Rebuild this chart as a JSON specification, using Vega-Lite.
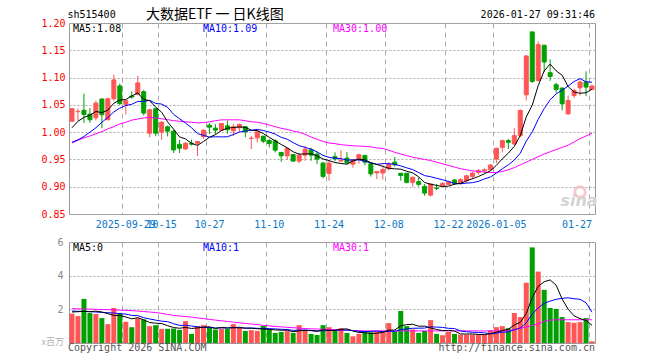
{
"$schema": "https://vega.github.io/schema/vega-lite/v6.json",
"background": "white",
"padding": {"left": 40, "top": 7, "right": 5, "bottom": 5},
"bounds": "flush",
"spacing": 28,
"config": {"view": {"stroke": "#999999", "strokeWidth": 1}, "font": "DejaVu Sans Mono",
  "axis": {"labelOverlap": false, "labelBound": false}, "axisY": {"labelOverlap": false, "labelBound": false}, "axisQuantitative": {"labelOverlap": false}},
"datasets": {"k": [
{"d":"2025-09-16","o":1.020,"h":1.044,"l":1.019,"c":1.043,"v":1.74,"m5":1.008,"m10":0.9815,"m30":0.980,"vm5":1.84,"vm10":1.90,"vm30":2.04},
{"d":"2025-09-17","o":1.0375,"h":1.043,"l":1.0214,"c":1.038,"v":1.60,"m5":1.020,"m10":0.986,"m30":0.985,"vm5":1.86,"vm10":1.88,"vm30":2.03},
{"d":"2025-09-18","o":1.040,"h":1.0705,"l":1.017,"c":1.0325,"v":2.62,"m5":1.027,"m10":0.992,"m30":0.9895,"vm5":1.88,"vm10":1.88,"vm30":2.02},
{"d":"2025-09-19","o":1.033,"h":1.044,"l":1.017,"c":1.0227,"v":1.78,"m5":1.031,"m10":1.000,"m30":0.993,"vm5":1.86,"vm10":1.86,"vm30":2.01},
{"d":"2025-09-22","o":1.0263,"h":1.0576,"l":1.0214,"c":1.0533,"v":1.72,"m5":1.0379,"m10":1.008,"m30":0.997,"vm5":1.892,"vm10":1.84,"vm30":2.00},
{"d":"2025-09-23","o":1.0607,"h":1.062,"l":1.0073,"c":1.0319,"v":1.48,"m5":1.0357,"m10":1.018,"m30":1.001,"vm5":1.84,"vm10":1.82,"vm30":1.99},
{"d":"2025-09-24","o":1.0227,"h":1.063,"l":1.022,"c":1.0613,"v":1.12,"m5":1.0403,"m10":1.027,"m30":1.006,"vm5":1.744,"vm10":1.80,"vm30":1.98},
{"d":"2025-09-25","o":1.0613,"h":1.1055,"l":1.058,"c":1.0957,"v":2.08,"m5":1.053,"m10":1.037,"m30":1.010,"vm5":1.636,"vm10":1.78,"vm30":1.97},
{"d":"2025-09-26","o":1.0847,"h":1.089,"l":1.050,"c":1.0521,"v":1.78,"m5":1.0589,"m10":1.044,"m30":1.015,"vm5":1.636,"vm10":1.74,"vm30":1.95},
{"d":"2025-09-29","o":1.0509,"h":1.058,"l":1.0325,"c":1.0576,"v":1.26,"m5":1.0597,"m10":1.0488,"m30":1.018,"vm5":1.544,"vm10":1.718,"vm30":1.94},
{"d":"2025-09-30","o":1.0662,"h":1.0748,"l":1.0613,"c":1.0644,"v":0.94,"m5":1.0662,"m10":1.051,"m30":1.022,"vm5":1.436,"vm10":1.638,"vm30":1.92},
{"d":"2025-10-09","o":1.0693,"h":1.1031,"l":1.0675,"c":1.0902,"v":1.48,"m5":1.072,"m10":1.0562,"m30":1.024,"vm5":1.508,"vm10":1.626,"vm30":1.90},
{"d":"2025-10-10","o":1.0742,"h":1.0767,"l":1.0306,"c":1.0349,"v":1.40,"m5":1.0598,"m10":1.0564,"m30":1.026,"vm5":1.372,"vm10":1.504,"vm30":1.87},
{"d":"2025-10-13","o":0.998,"h":1.0429,"l":0.9907,"c":1.041,"v":1.00,"m5":1.0576,"m10":1.0583,"m30":1.027,"vm5":1.216,"vm10":1.426,"vm30":1.84},
{"d":"2025-10-14","o":1.0429,"h":1.0447,"l":0.9926,"c":0.998,"v":1.06,"m5":1.0457,"m10":1.0527,"m30":1.026,"vm5":1.176,"vm10":1.36,"vm30":1.81},
{"d":"2025-10-15","o":0.9999,"h":1.0196,"l":0.9858,"c":1.0184,"v":0.84,"m5":1.0365,"m10":1.0514,"m30":1.0245,"vm5":1.156,"vm10":1.296,"vm30":1.76},
{"d":"2025-10-16","o":1.0098,"h":1.0122,"l":0.992,"c":1.0018,"v":0.84,"m5":1.0188,"m10":1.0454,"m30":1.023,"vm5":1.028,"vm10":1.268,"vm30":1.70},
{"d":"2025-10-17","o":1.0018,"h":1.0042,"l":0.9619,"c":0.9674,"v":0.86,"m5":1.0053,"m10":1.0326,"m30":1.021,"vm5":0.92,"vm10":1.146,"vm30":1.64},
{"d":"2025-10-20","o":0.9778,"h":0.9858,"l":0.9619,"c":0.9705,"v":0.78,"m5":0.9912,"m10":1.0244,"m30":1.020,"vm5":0.876,"vm10":1.046,"vm30":1.60},
{"d":"2025-10-21","o":0.9692,"h":0.9815,"l":0.9674,"c":0.9797,"v":1.30,"m5":0.9876,"m10":1.0167,"m30":1.019,"vm5":0.924,"vm10":1.05,"vm30":1.57},
{"d":"2025-10-22","o":0.9797,"h":0.9864,"l":0.9754,"c":0.9779,"v":0.54,"m5":0.9795,"m10":1.008,"m30":1.018,"vm5":0.864,"vm10":1.01,"vm30":1.54},
{"d":"2025-10-23","o":0.9797,"h":0.9834,"l":0.9563,"c":0.9828,"v":1.00,"m5":0.9757,"m10":0.9973,"m30":1.017,"vm5":0.896,"vm10":0.962,"vm30":1.49},
{"d":"2025-10-24","o":0.992,"h":1.0048,"l":0.988,"c":1.0036,"v":1.06,"m5":0.9829,"m10":0.9941,"m30":1.0175,"vm5":0.936,"vm10":0.928,"vm30":1.45},
{"d":"2025-10-27","o":1.0128,"h":1.0165,"l":0.9963,"c":1.0091,"v":0.92,"m5":0.9906,"m10":0.9909,"m30":1.019,"vm5":0.964,"vm10":0.92,"vm30":1.40},
{"d":"2025-10-28","o":1.0073,"h":1.0146,"l":0.9963,"c":1.0037,"v":0.80,"m5":0.9954,"m10":0.9915,"m30":1.021,"vm5":0.864,"vm10":0.894,"vm30":1.36},
{"d":"2025-10-29","o":1.0037,"h":1.016,"l":1.003,"c":1.0158,"v":0.84,"m5":1.003,"m10":0.9913,"m30":1.0225,"vm5":0.924,"vm10":0.894,"vm30":1.32},
{"d":"2025-10-30","o":1.0116,"h":1.0213,"l":0.9975,"c":1.0043,"v":0.84,"m5":1.0073,"m10":0.9915,"m30":1.0226,"vm5":0.892,"vm10":0.894,"vm30":1.28},
{"d":"2025-10-31","o":1.0024,"h":1.0152,"l":0.9927,"c":1.0098,"v":1.12,"m5":1.0085,"m10":0.9957,"m30":1.0226,"vm5":0.904,"vm10":0.92,"vm30":1.24},
{"d":"2025-11-03","o":1.0079,"h":1.016,"l":1.000,"c":1.014,"v":0.92,"m5":1.0095,"m10":1.0001,"m30":1.0225,"vm5":0.904,"vm10":0.934,"vm30":1.20},
{"d":"2025-11-04","o":1.0098,"h":1.011,"l":0.9908,"c":1.0006,"v":0.72,"m5":1.0089,"m10":1.0022,"m30":1.021,"vm5":0.888,"vm10":0.876,"vm30":1.16},
{"d":"2025-11-05","o":0.9885,"h":0.9927,"l":0.969,"c":0.989,"v":0.76,"m5":1.0035,"m10":1.0033,"m30":1.019,"vm5":0.872,"vm10":0.898,"vm30":1.13},
{"d":"2025-11-06","o":0.9896,"h":1.0037,"l":0.981,"c":1.0006,"v":0.72,"m5":1.0028,"m10":1.0051,"m30":1.018,"vm5":0.848,"vm10":0.87,"vm30":1.09},
{"d":"2025-11-07","o":0.9927,"h":0.9927,"l":0.98,"c":0.9835,"v":1.02,"m5":0.9975,"m10":1.003,"m30":1.016,"vm5":0.828,"vm10":0.866,"vm30":1.05},
{"d":"2025-11-10","o":0.9847,"h":0.988,"l":0.972,"c":0.9792,"v":0.80,"m5":0.9906,"m10":1.0001,"m30":1.013,"vm5":0.804,"vm10":0.854,"vm30":1.02},
{"d":"2025-11-11","o":0.984,"h":0.987,"l":0.963,"c":0.967,"v":0.60,"m5":0.9839,"m10":0.9964,"m30":1.010,"vm5":0.78,"vm10":0.834,"vm30":0.98},
{"d":"2025-11-12","o":0.9628,"h":0.963,"l":0.9457,"c":0.9567,"v":0.66,"m5":0.9774,"m10":0.9905,"m30":1.007,"vm5":0.76,"vm10":0.816,"vm30":0.96},
{"d":"2025-11-13","o":0.9567,"h":0.972,"l":0.949,"c":0.970,"v":0.70,"m5":0.9713,"m10":0.9871,"m30":1.005,"vm5":0.756,"vm10":0.802,"vm30":0.93},
{"d":"2025-11-14","o":0.959,"h":0.96,"l":0.9457,"c":0.9469,"v":0.60,"m5":0.964,"m10":0.9808,"m30":1.002,"vm5":0.672,"vm10":0.75,"vm30":0.91},
{"d":"2025-11-17","o":0.9469,"h":0.9616,"l":0.9433,"c":0.9579,"v":1.06,"m5":0.9597,"m10":0.9752,"m30":1.000,"vm5":0.724,"vm10":0.764,"vm30":0.88},
{"d":"2025-11-18","o":0.9579,"h":0.975,"l":0.9475,"c":0.9689,"v":0.76,"m5":0.9601,"m10":0.972,"m30":0.996,"vm5":0.756,"vm10":0.768,"vm30":0.86},
{"d":"2025-11-19","o":0.9677,"h":0.9713,"l":0.9475,"c":0.9579,"v":0.54,"m5":0.9603,"m10":0.9689,"m30":0.991,"vm5":0.732,"vm10":0.746,"vm30":0.84},
{"d":"2025-11-20","o":0.9597,"h":0.964,"l":0.9415,"c":0.9506,"v":0.48,"m5":0.9564,"m10":0.9639,"m30":0.987,"vm5":0.688,"vm10":0.722,"vm30":0.83},
{"d":"2025-11-21","o":0.9433,"h":0.9457,"l":0.9152,"c":0.9189,"v":1.06,"m5":0.9508,"m10":0.9574,"m30":0.983,"vm5":0.78,"vm10":0.726,"vm30":0.82},
{"d":"2025-11-24","o":0.9243,"h":0.9475,"l":0.911,"c":0.9433,"v":0.94,"m5":0.9479,"m10":0.9538,"m30":0.980,"vm5":0.756,"vm10":0.74,"vm30":0.80},
{"d":"2025-11-25","o":0.955,"h":0.963,"l":0.947,"c":0.951,"v":0.72,"m5":0.9443,"m10":0.9522,"m30":0.979,"vm5":0.748,"vm10":0.752,"vm30":0.79},
{"d":"2025-11-26","o":0.947,"h":0.9667,"l":0.9463,"c":0.9485,"v":0.88,"m5":0.9426,"m10":0.9515,"m30":0.977,"vm5":0.816,"vm10":0.774,"vm30":0.78},
{"d":"2025-11-27","o":0.9525,"h":0.9636,"l":0.942,"c":0.9438,"v":0.60,"m5":0.9412,"m10":0.9488,"m30":0.976,"vm5":0.84,"vm10":0.764,"vm30":0.76},
{"d":"2025-11-28","o":0.9414,"h":0.95,"l":0.935,"c":0.9494,"v":0.40,"m5":0.9473,"m10":0.9491,"m30":0.975,"vm5":0.708,"vm10":0.744,"vm30":0.74},
{"d":"2025-12-01","o":0.95,"h":0.9605,"l":0.942,"c":0.9586,"v":0.54,"m5":0.9504,"m10":0.9492,"m30":0.9745,"vm5":0.628,"vm10":0.692,"vm30":0.73},
{"d":"2025-12-02","o":0.9574,"h":0.958,"l":0.939,"c":0.945,"v":0.64,"m5":0.9492,"m10":0.9468,"m30":0.974,"vm5":0.612,"vm10":0.68,"vm30":0.72},
{"d":"2025-12-03","o":0.942,"h":0.9426,"l":0.9185,"c":0.9235,"v":0.64,"m5":0.9441,"m10":0.9434,"m30":0.973,"vm5":0.564,"vm10":0.69,"vm30":0.72},
{"d":"2025-12-04","o":0.9253,"h":0.928,"l":0.914,"c":0.9278,"v":0.68,"m5":0.9409,"m10":0.9411,"m30":0.971,"vm5":0.58,"vm10":0.71,"vm30":0.72},
{"d":"2025-12-05","o":0.9253,"h":0.9389,"l":0.913,"c":0.9315,"v":0.68,"m5":0.9373,"m10":0.9423,"m30":0.970,"vm5":0.636,"vm10":0.672,"vm30":0.72},
{"d":"2025-12-08","o":0.9327,"h":0.945,"l":0.930,"c":0.9414,"v":1.18,"m5":0.9338,"m10":0.9421,"m30":0.967,"vm5":0.764,"vm10":0.696,"vm30":0.72},
{"d":"2025-12-09","o":0.945,"h":0.9543,"l":0.937,"c":0.940,"v":0.68,"m5":0.9328,"m10":0.941,"m30":0.963,"vm5":0.772,"vm10":0.692,"vm30":0.72},
{"d":"2025-12-10","o":0.9247,"h":0.925,"l":0.911,"c":0.9204,"v":1.90,"m5":0.9322,"m10":0.9382,"m30":0.960,"vm5":1.024,"vm10":0.794,"vm30":0.72},
{"d":"2025-12-11","o":0.9247,"h":0.925,"l":0.906,"c":0.908,"v":1.00,"m5":0.9283,"m10":0.9346,"m30":0.957,"vm5":1.088,"vm10":0.834,"vm30":0.72},
{"d":"2025-12-12","o":0.908,"h":0.918,"l":0.900,"c":0.9173,"v":0.80,"m5":0.9254,"m10":0.9314,"m30":0.954,"vm5":1.112,"vm10":0.874,"vm30":0.72},
{"d":"2025-12-15","o":0.9093,"h":0.917,"l":0.9006,"c":0.9043,"v":0.60,"m5":0.918,"m10":0.9259,"m30":0.952,"vm5":0.996,"vm10":0.88,"vm30":0.72},
{"d":"2025-12-16","o":0.9006,"h":0.905,"l":0.8833,"c":0.8883,"v":0.72,"m5":0.9077,"m10":0.9203,"m30":0.950,"vm5":1.004,"vm10":0.888,"vm30":0.72},
{"d":"2025-12-17","o":0.8846,"h":0.905,"l":0.882,"c":0.905,"v":1.36,"m5":0.9046,"m10":0.9184,"m30":0.948,"vm5":0.896,"vm10":0.96,"vm30":0.72},
{"d":"2025-12-18","o":0.8975,"h":0.905,"l":0.8938,"c":0.8969,"v":0.54,"m5":0.9024,"m10":0.9154,"m30":0.945,"vm5":0.804,"vm10":0.946,"vm30":0.72},
{"d":"2025-12-19","o":0.9019,"h":0.908,"l":0.9019,"c":0.9062,"v":0.46,"m5":0.9001,"m10":0.9128,"m30":0.942,"vm5":0.736,"vm10":0.924,"vm30":0.72},
{"d":"2025-12-22","o":0.9043,"h":0.911,"l":0.903,"c":0.909,"v":0.66,"m5":0.9011,"m10":0.9096,"m30":0.939,"vm5":0.748,"vm10":0.872,"vm30":0.72},
{"d":"2025-12-23","o":0.9123,"h":0.914,"l":0.903,"c":0.906,"v":0.54,"m5":0.9046,"m10":0.9062,"m30":0.936,"vm5":0.712,"vm10":0.858,"vm30":0.72},
{"d":"2025-12-24","o":0.906,"h":0.915,"l":0.904,"c":0.913,"v":0.50,"m5":0.9062,"m10":0.9054,"m30":0.933,"vm5":0.54,"vm10":0.718,"vm30":0.72},
{"d":"2025-12-25","o":0.911,"h":0.922,"l":0.907,"c":0.920,"v":0.50,"m5":0.9108,"m10":0.9066,"m30":0.931,"vm5":0.532,"vm10":0.668,"vm30":0.72},
{"d":"2025-12-26","o":0.9189,"h":0.9275,"l":0.914,"c":0.925,"v":0.50,"m5":0.9146,"m10":0.9074,"m30":0.929,"vm5":0.54,"vm10":0.638,"vm30":0.72},
{"d":"2025-12-29","o":0.9263,"h":0.9324,"l":0.922,"c":0.9294,"v":0.50,"m5":0.9187,"m10":0.9099,"m30":0.928,"vm5":0.508,"vm10":0.628,"vm30":0.72},
{"d":"2025-12-30","o":0.9294,"h":0.9336,"l":0.925,"c":0.9312,"v":0.50,"m5":0.9237,"m10":0.9142,"m30":0.927,"vm5":0.50,"vm10":0.606,"vm30":0.72},
{"d":"2025-12-31","o":0.9312,"h":0.941,"l":0.929,"c":0.9398,"v":0.76,"m5":0.9291,"m10":0.9177,"m30":0.926,"vm5":0.552,"vm10":0.546,"vm30":0.72},
{"d":"2026-01-05","o":0.9508,"h":0.9716,"l":0.9434,"c":0.9704,"v":0.94,"m5":0.9392,"m10":0.925,"m30":0.926,"vm5":0.64,"vm10":0.586,"vm30":0.72},
{"d":"2026-01-06","o":0.9722,"h":0.9863,"l":0.963,"c":0.9845,"v":1.00,"m5":0.9511,"m10":0.9329,"m30":0.928,"vm5":0.74,"vm10":0.64,"vm30":0.72},
{"d":"2026-01-07","o":0.9845,"h":0.9876,"l":0.9692,"c":0.9814,"v":0.88,"m5":0.9615,"m10":0.9401,"m30":0.931,"vm5":0.816,"vm10":0.662,"vm30":0.74},
{"d":"2026-01-08","o":0.9784,"h":1.0072,"l":0.9765,"c":0.9937,"v":1.78,"m5":0.974,"m10":0.9489,"m30":0.935,"vm5":1.072,"vm10":0.786,"vm30":0.80},
{"d":"2026-01-09","o":0.9937,"h":1.0415,"l":0.9906,"c":1.0397,"v":1.54,"m5":0.9939,"m10":0.9615,"m30":0.940,"vm5":1.228,"vm10":0.89,"vm30":0.88},
{"d":"2026-01-12","o":1.0685,"h":1.1408,"l":1.058,"c":1.1396,"v":3.58,"m5":1.0278,"m10":0.9835,"m30":0.945,"vm5":1.756,"vm10":1.198,"vm30":0.94},
{"d":"2026-01-13","o":1.1837,"h":1.1837,"l":1.09,"c":1.093,"v":5.68,"m5":1.0495,"m10":1.0003,"m30":0.950,"vm5":2.692,"vm10":1.716,"vm30":1.04},
{"d":"2026-01-14","o":1.0948,"h":1.1665,"l":1.093,"c":1.1604,"v":4.24,"m5":1.0853,"m10":1.0234,"m30":0.955,"vm5":3.364,"vm10":2.09,"vm30":1.14},
{"d":"2026-01-15","o":1.1592,"h":1.16,"l":1.11,"c":1.1285,"v":3.16,"m5":1.1122,"m10":1.0431,"m30":0.960,"vm5":3.64,"vm10":2.356,"vm30":1.28},
{"d":"2026-01-16","o":1.109,"h":1.1334,"l":1.094,"c":1.102,"v":2.08,"m5":1.1247,"m10":1.0593,"m30":0.964,"vm5":3.748,"vm10":2.488,"vm30":1.36},
{"d":"2026-01-19","o":1.0869,"h":1.0906,"l":1.0722,"c":1.0783,"v":2.02,"m5":1.1124,"m10":1.0701,"m30":0.968,"vm5":3.436,"vm10":2.596,"vm30":1.38},
{"d":"2026-01-20","o":1.0807,"h":1.082,"l":1.0397,"c":1.0519,"v":1.54,"m5":1.1042,"m10":1.0769,"m30":0.972,"vm5":2.608,"vm10":2.65,"vm30":1.38},
{"d":"2026-01-21","o":1.0335,"h":1.067,"l":1.0317,"c":1.058,"v":1.24,"m5":1.0837,"m10":1.0845,"m30":0.976,"vm5":2.008,"vm10":2.686,"vm30":1.38},
{"d":"2026-01-22","o":1.0672,"h":1.0795,"l":1.0624,"c":1.0765,"v":1.20,"m5":1.0733,"m10":1.0928,"m30":0.982,"vm5":1.616,"vm10":2.628,"vm30":1.38},
{"d":"2026-01-23","o":1.0813,"h":1.0948,"l":1.0672,"c":1.0918,"v":1.24,"m5":1.0713,"m10":1.098,"m30":0.988,"vm5":1.448,"vm10":2.598,"vm30":1.38},
{"d":"2026-01-26","o":1.0918,"h":1.1114,"l":1.066,"c":1.0826,"v":1.48,"m5":1.0722,"m10":1.0923,"m30":0.993,"vm5":1.34,"vm10":2.388,"vm30":1.38},
{"d":"2026-01-27","o":1.0783,"h":1.0869,"l":1.077,"c":1.0844,"v":0.10,"m5":1.0787,"m10":1.0915,"m30":0.998,"vm5":1.052,"vm10":1.83,"vm30":1.38}
]},
"data": {"name": "k"},
"vconcat": [
{
"width": 526, "height": 191,
"encoding": {"x": {"field": "d", "type": "ordinal", "sort": null,
  "scale": {"type": "band", "paddingInner": 0, "paddingOuter": 0},
  "axis": {"values": ["2025-09-29","2025-10-15","2025-10-27","2025-11-10","2025-11-24","2025-12-08","2025-12-22","2026-01-05","2026-01-27"],
    "title": null, "domain": false, "ticks": false, "tickSize": 0, "labelPadding": 5,
    "labelFont": "DejaVu Sans Mono", "labelFontSize": 10, "labelColor": "#0a78c8", "labelAngle": 0, "labelOverlap": false,
    "labelAlign": {"condition": {"test": "datum.value == '2026-01-27'", "value": "right"}, "value": "center"},
    "labelExpr": "(datum.value == '2025-09-29' || datum.value == '2026-01-05') ? datum.value : slice(datum.value, 5)",
    "grid": true, "gridColor": "#aaaaaa", "gridDash": [5, 4], "bandPosition": 0}},
  "y": {"type": "quantitative", "scale": {"domain": [0.85, 1.2], "nice": false, "zero": false},
     "axis": {"values": [0.85, 0.9, 0.95, 1.0, 1.05, 1.1, 1.15, 1.2], "format": ".2f", "title": null, "domain": false, "ticks": false, "tickSize": 0,
       "labelPadding": 4, "labelFont": "DejaVu Sans Mono", "labelFontSize": 10, "labelColor": "#ff0000", "labelOverlap": false, "labelBound": false, "labelSeparation": 0,
       "grid": true, "gridColor": "#aaaaaa", "gridDash": [2, 2]}}},
"layer": [
 {"mark": {"type": "rule", "strokeWidth": 1},
  "encoding": {
   "y": {"field": "l", "type": "quantitative", "scale": {"domain": [0.85, 1.2], "nice": false, "zero": false},
     "axis": {"values": [0.85, 0.9, 0.95, 1.0, 1.05, 1.1, 1.15, 1.2], "format": ".2f", "title": null, "domain": false, "ticks": false, "tickSize": 0,
       "labelPadding": 4, "labelFont": "DejaVu Sans Mono", "labelFontSize": 10, "labelColor": "#ff0000", "labelOverlap": false, "labelBound": false, "labelSeparation": 0,
       "grid": true, "gridColor": "#aaaaaa", "gridDash": [2, 2]}},
   "y2": {"field": "h"},
   "color": {"condition": {"test": "datum.c >= datum.o", "value": "#ff5555"}, "value": "#00a000"}}},
 {"mark": {"type": "bar", "size": 4, "strokeWidth": 1},
  "encoding": {
   "y": {"field": "o", "type": "quantitative", "scale": {"domain": [0.85, 1.2], "nice": false, "zero": false},
     "axis": {"values": [0.85, 0.9, 0.95, 1.0, 1.05, 1.1, 1.15, 1.2], "format": ".2f", "title": null, "domain": false, "ticks": false, "tickSize": 0,
       "labelPadding": 4, "labelFont": "DejaVu Sans Mono", "labelFontSize": 10, "labelColor": "#ff0000", "labelOverlap": false, "labelBound": false, "labelSeparation": 0,
       "grid": true, "gridColor": "#aaaaaa", "gridDash": [2, 2]}},
   "y2": {"field": "c"},
   "fill": {"condition": {"test": "datum.c >= datum.o", "value": "#ff5555"}, "value": "#00a000"},
   "stroke": {"condition": {"test": "datum.c >= datum.o", "value": "#ff5555"}, "value": "#00a000"}}},
 {"mark": {"type": "line", "strokeWidth": 1, "color": "#ff00ff"},
  "encoding": {"y": {"field": "m30", "type": "quantitative", "scale": {"domain": [0.85, 1.2], "nice": false, "zero": false}}}},
 {"mark": {"type": "line", "strokeWidth": 1, "color": "#0000ff"},
  "encoding": {"y": {"field": "m10", "type": "quantitative", "scale": {"domain": [0.85, 1.2], "nice": false, "zero": false}}}},
 {"mark": {"type": "line", "strokeWidth": 1, "color": "#000000"},
  "encoding": {"y": {"field": "m5", "type": "quantitative", "scale": {"domain": [0.85, 1.2], "nice": false, "zero": false}}}},
 {"data": {"values": [{}]},
  "mark": {"type": "point", "shape": "circle", "filled": false, "size": 110, "strokeWidth": 3, "color": "#f2b4b4", "dx": 0},
  "encoding": {"x": {"datum": "2026-01-23"}, "y": {"datum": 0.8903, "type": "quantitative", "scale": {"domain": [0.85, 1.2], "nice": false, "zero": false}}}},
 {"data": {"values": [{}]},
  "mark": {"type": "text", "text": "sina", "font": "DejaVu Sans", "fontSize": 16, "fontStyle": "italic", "fontWeight": "bold", "color": "#d4d4d4", "align": "center", "baseline": "middle", "dx": -1, "clip": false},
  "encoding": {"x": {"datum": "2026-01-23"}, "y": {"datum": 0.8738, "type": "quantitative", "scale": {"domain": [0.85, 1.2], "nice": false, "zero": false}}}},
 {"data": {"values": [{}]},
  "mark": {"type": "text", "text": "sh515400", "font": "DejaVu Sans Mono", "fontSize": 10, "color": "#000000", "align": "left", "baseline": "middle", "dx": -4.5, "clip": false},
  "encoding": {"x": {"datum": "2025-09-16"}, "y": {"datum": 1.2147, "type": "quantitative", "scale": {"domain": [0.85, 1.2], "nice": false, "zero": false}}}},
 {"data": {"values": [{}]},
  "mark": {"type": "text", "text": "大数据ETF 一 日K线图", "font": "Noto Sans CJK SC", "fontSize": 14, "color": "#000000", "align": "left", "baseline": "middle", "dx": -3.7, "clip": false},
  "encoding": {"x": {"datum": "2025-10-13"}, "y": {"datum": 1.2147, "type": "quantitative", "scale": {"domain": [0.85, 1.2], "nice": false, "zero": false}}}},
 {"data": {"values": [{}]},
  "mark": {"type": "text", "text": "2026-01-27 09:31:46", "font": "DejaVu Sans Mono", "fontSize": 10, "color": "#000000", "align": "right", "baseline": "middle", "dx": 3, "clip": false},
  "encoding": {"x": {"datum": "2026-01-27"}, "y": {"datum": 1.2147, "type": "quantitative", "scale": {"domain": [0.85, 1.2], "nice": false, "zero": false}}}},
 {"data": {"values": [{}]},
  "mark": {"type": "text", "text": "MA5:1.08", "font": "DejaVu Sans Mono", "fontSize": 10, "color": "#000000", "align": "left", "baseline": "middle", "dx": 1, "clip": false},
  "encoding": {"x": {"datum": "2025-09-16"}, "y": {"datum": 1.1899, "type": "quantitative", "scale": {"domain": [0.85, 1.2], "nice": false, "zero": false}}}},
 {"data": {"values": [{}]},
  "mark": {"type": "text", "text": "MA10:1.09", "font": "DejaVu Sans Mono", "fontSize": 10, "color": "#0000ff", "align": "left", "baseline": "middle", "dx": -0.5, "clip": false},
  "encoding": {"x": {"datum": "2025-10-24"}, "y": {"datum": 1.1899, "type": "quantitative", "scale": {"domain": [0.85, 1.2], "nice": false, "zero": false}}}},
 {"data": {"values": [{}]},
  "mark": {"type": "text", "text": "MA30:1.00", "font": "DejaVu Sans Mono", "fontSize": 10, "color": "#ff00ff", "align": "left", "baseline": "middle", "dx": -2, "clip": false},
  "encoding": {"x": {"datum": "2025-11-25"}, "y": {"datum": 1.1899, "type": "quantitative", "scale": {"domain": [0.85, 1.2], "nice": false, "zero": false}}}}
]
},
{
"width": 526, "height": 101,
"encoding": {"x": {"field": "d", "type": "ordinal", "sort": null,
  "scale": {"type": "band", "paddingInner": 0, "paddingOuter": 0},
  "axis": {"values": ["2025-09-29","2025-10-15","2025-10-27","2025-11-10","2025-11-24","2025-12-08","2025-12-22","2026-01-05","2026-01-27"],
    "title": null, "labels": false, "domain": false, "ticks": false, "tickSize": 0,
    "grid": true, "gridColor": "#aaaaaa", "gridDash": [5, 4], "bandPosition": 0}}},
"layer": [
 {"mark": {"type": "bar", "size": 5},
  "encoding": {
   "y": {"field": "v", "type": "quantitative", "scale": {"domain": [0, 6], "nice": false},
     "axis": {"values": [2, 4, 6], "title": null, "domain": false, "ticks": false, "tickSize": 0, "labelPadding": 6,
       "labelFont": "DejaVu Sans Mono", "labelFontSize": 10, "labelColor": "#888888", "labelOverlap": false, "labelBound": false,
       "grid": true, "gridColor": "#aaaaaa", "gridDash": [2, 2]}},
   "color": {"condition": {"test": "datum.c >= datum.o", "value": "#ff5555"}, "value": "#00a000"}}},
 {"mark": {"type": "line", "strokeWidth": 1, "color": "#ff00ff"},
  "encoding": {"y": {"field": "vm30", "type": "quantitative", "scale": {"domain": [0, 6], "nice": false}}}},
 {"mark": {"type": "line", "strokeWidth": 1, "color": "#0000ff"},
  "encoding": {"y": {"field": "vm10", "type": "quantitative", "scale": {"domain": [0, 6], "nice": false}}}},
 {"mark": {"type": "line", "strokeWidth": 1, "color": "#000000"},
  "encoding": {"y": {"field": "vm5", "type": "quantitative", "scale": {"domain": [0, 6], "nice": false}}}},
 {"data": {"values": [{}]},
  "mark": {"type": "text", "text": "MA5:0", "font": "DejaVu Sans Mono", "fontSize": 10, "color": "#000000", "align": "left", "baseline": "middle", "dx": 1, "clip": false},
  "encoding": {"x": {"datum": "2025-09-16"}, "y": {"datum": 5.64, "type": "quantitative", "scale": {"domain": [0, 6], "nice": false}}}},
 {"data": {"values": [{}]},
  "mark": {"type": "text", "text": "MA10:1", "font": "DejaVu Sans Mono", "fontSize": 10, "color": "#0000ff", "align": "left", "baseline": "middle", "dx": -0.5, "clip": false},
  "encoding": {"x": {"datum": "2025-10-24"}, "y": {"datum": 5.64, "type": "quantitative", "scale": {"domain": [0, 6], "nice": false}}}},
 {"data": {"values": [{}]},
  "mark": {"type": "text", "text": "MA30:1", "font": "DejaVu Sans Mono", "fontSize": 10, "color": "#ff00ff", "align": "left", "baseline": "middle", "dx": -2, "clip": false},
  "encoding": {"x": {"datum": "2025-11-25"}, "y": {"datum": 5.64, "type": "quantitative", "scale": {"domain": [0, 6], "nice": false}}}},
 {"data": {"values": [{}]},
  "mark": {"type": "text", "text": "Copyright 2026 SINA.COM", "font": "DejaVu Sans Mono", "fontSize": 10, "color": "#555555", "align": "left", "baseline": "middle", "dx": -4, "clip": false},
  "encoding": {"x": {"datum": "2025-09-16"}, "y": {"datum": -0.3, "type": "quantitative", "scale": {"domain": [0, 6], "nice": false}}}},
 {"data": {"values": [{}]},
  "mark": {"type": "text", "text": "http://finance.sina.com.cn", "font": "DejaVu Sans Mono", "fontSize": 10, "color": "#555555", "align": "right", "baseline": "middle", "dx": 3, "clip": false},
  "encoding": {"x": {"datum": "2026-01-27"}, "y": {"datum": -0.3, "type": "quantitative", "scale": {"domain": [0, 6], "nice": false}}}},
 {"data": {"values": [{}]},
  "mark": {"type": "text", "text": "x百万", "font": "Noto Sans CJK SC", "fontSize": 9, "color": "#b0b0b0", "align": "right", "baseline": "middle", "dx": -8, "clip": false},
  "encoding": {"x": {"datum": "2025-09-16"}, "y": {"datum": 0.05, "type": "quantitative", "scale": {"domain": [0, 6], "nice": false}}}}
]
}
]
}
